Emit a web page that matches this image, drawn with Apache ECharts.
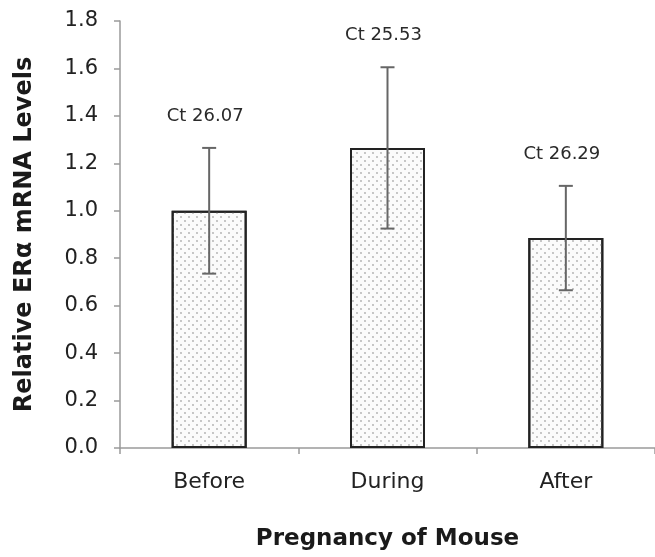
<!DOCTYPE html>
<html>
<head>
<meta charset="utf-8">
<script src="https://cdn.jsdelivr.net/npm/echarts@6/dist/echarts.min.js"></script>
<style>
  html, body { margin: 0; padding: 0; background: #ffffff; }
  #chart { width: 655px; height: 557px; }
</style>
</head>
<body>
<div id="chart"></div>
<script>
// ---- data ----
const categories = ['Before', 'During', 'After'];
const means = [1.00, 1.265, 0.885];
const errors = [0.265, 0.34, 0.22];
const ctLabels = ['Ct 26.07', 'Ct 25.53', 'Ct 26.29'];
const yMin = 0, yMax = 1.8, yStep = 0.2;
const xTitle = 'Pregnancy of Mouse';
const yTitle = 'Relative ERα mRNA Levels';

const FONT = 'DejaVu Sans';
const errData = means.map((m, i) => [i, m - errors[i], m + errors[i]]);

const chart = echarts.init(document.getElementById('chart'), null, { renderer: 'canvas' });
chart.setOption({
  animation: false,
  backgroundColor: '#ffffff',
  grid: { left: 120, top: 21, width: 541, height: 427, containLabel: false },
  xAxis: {
    type: 'category',
    data: categories,
    name: xTitle,
    nameLocation: 'middle',
    nameGap: 80,
    nameTextStyle: { fontFamily: FONT, fontWeight: 'bold', fontSize: 23, color: '#1a1a1a' },
    axisLine: { show: true, lineStyle: { color: '#9a9a9a', width: 1.5 } },
    axisTick: { show: true, length: 6, inside: false, lineStyle: { color: '#9a9a9a', width: 1.5 } },
    axisLabel: { margin: 23, fontFamily: FONT, fontSize: 22, color: '#222222' },
    splitLine: { show: false }
  },
  yAxis: {
    type: 'value',
    min: yMin, max: yMax, interval: yStep,
    name: yTitle,
    nameLocation: 'middle',
    nameGap: 83,
    nameRotate: 90,
    nameTextStyle: { fontFamily: FONT, fontWeight: 'bold', fontSize: 24, color: '#1a1a1a' },
    axisLine: { show: true, lineStyle: { color: '#9a9a9a', width: 1.5 } },
    axisTick: { show: true, length: 6, inside: false, lineStyle: { color: '#9a9a9a', width: 1.5 } },
    axisLabel: { margin: 22, fontFamily: FONT, fontSize: 21, color: '#222222',
      formatter: v => v.toFixed(1) },
    splitLine: { show: false }
  },
  series: [
    {
      type: 'bar',
      data: means,
      barWidth: 75,
      itemStyle: {
        color: '#fbfbfb',
        borderColor: '#222222',
        borderWidth: 2,
        decal: {
          symbol: 'circle',
          symbolSize: 0.9,
          color: '#adadad',
          dashArrayX: [[2, 6], [0, 4, 2, 2]],
          dashArrayY: [2, 2],
          rotation: 0
        }
      },
      z: 2
    },
    {
      type: 'custom',
      data: errData,
      z: 5,
      renderItem: function (params, api) {
        const i = api.value(0);
        const lo = api.coord([i, api.value(1)]);
        const hi = api.coord([i, api.value(2)]);
        const capW = 7;
        const st = { stroke: '#666666', lineWidth: 2 };
        return {
          type: 'group',
          children: [
            { type: 'line', shape: { x1: hi[0], y1: hi[1], x2: lo[0], y2: lo[1] }, style: st },
            { type: 'line', shape: { x1: hi[0] - capW, y1: hi[1], x2: hi[0] + capW, y2: hi[1] }, style: st },
            { type: 'line', shape: { x1: lo[0] - capW, y1: lo[1], x2: lo[0] + capW, y2: lo[1] }, style: st },
            { type: 'text', x: hi[0] - 4, y: hi[1] - 32,
              style: { text: ctLabels[params.dataIndex], fontFamily: FONT, fontSize: 18,
                fill: '#2a2a2a', align: 'center', verticalAlign: 'middle' } }
          ]
        };
      }
    }
  ]
});
</script>
</body>
</html>
